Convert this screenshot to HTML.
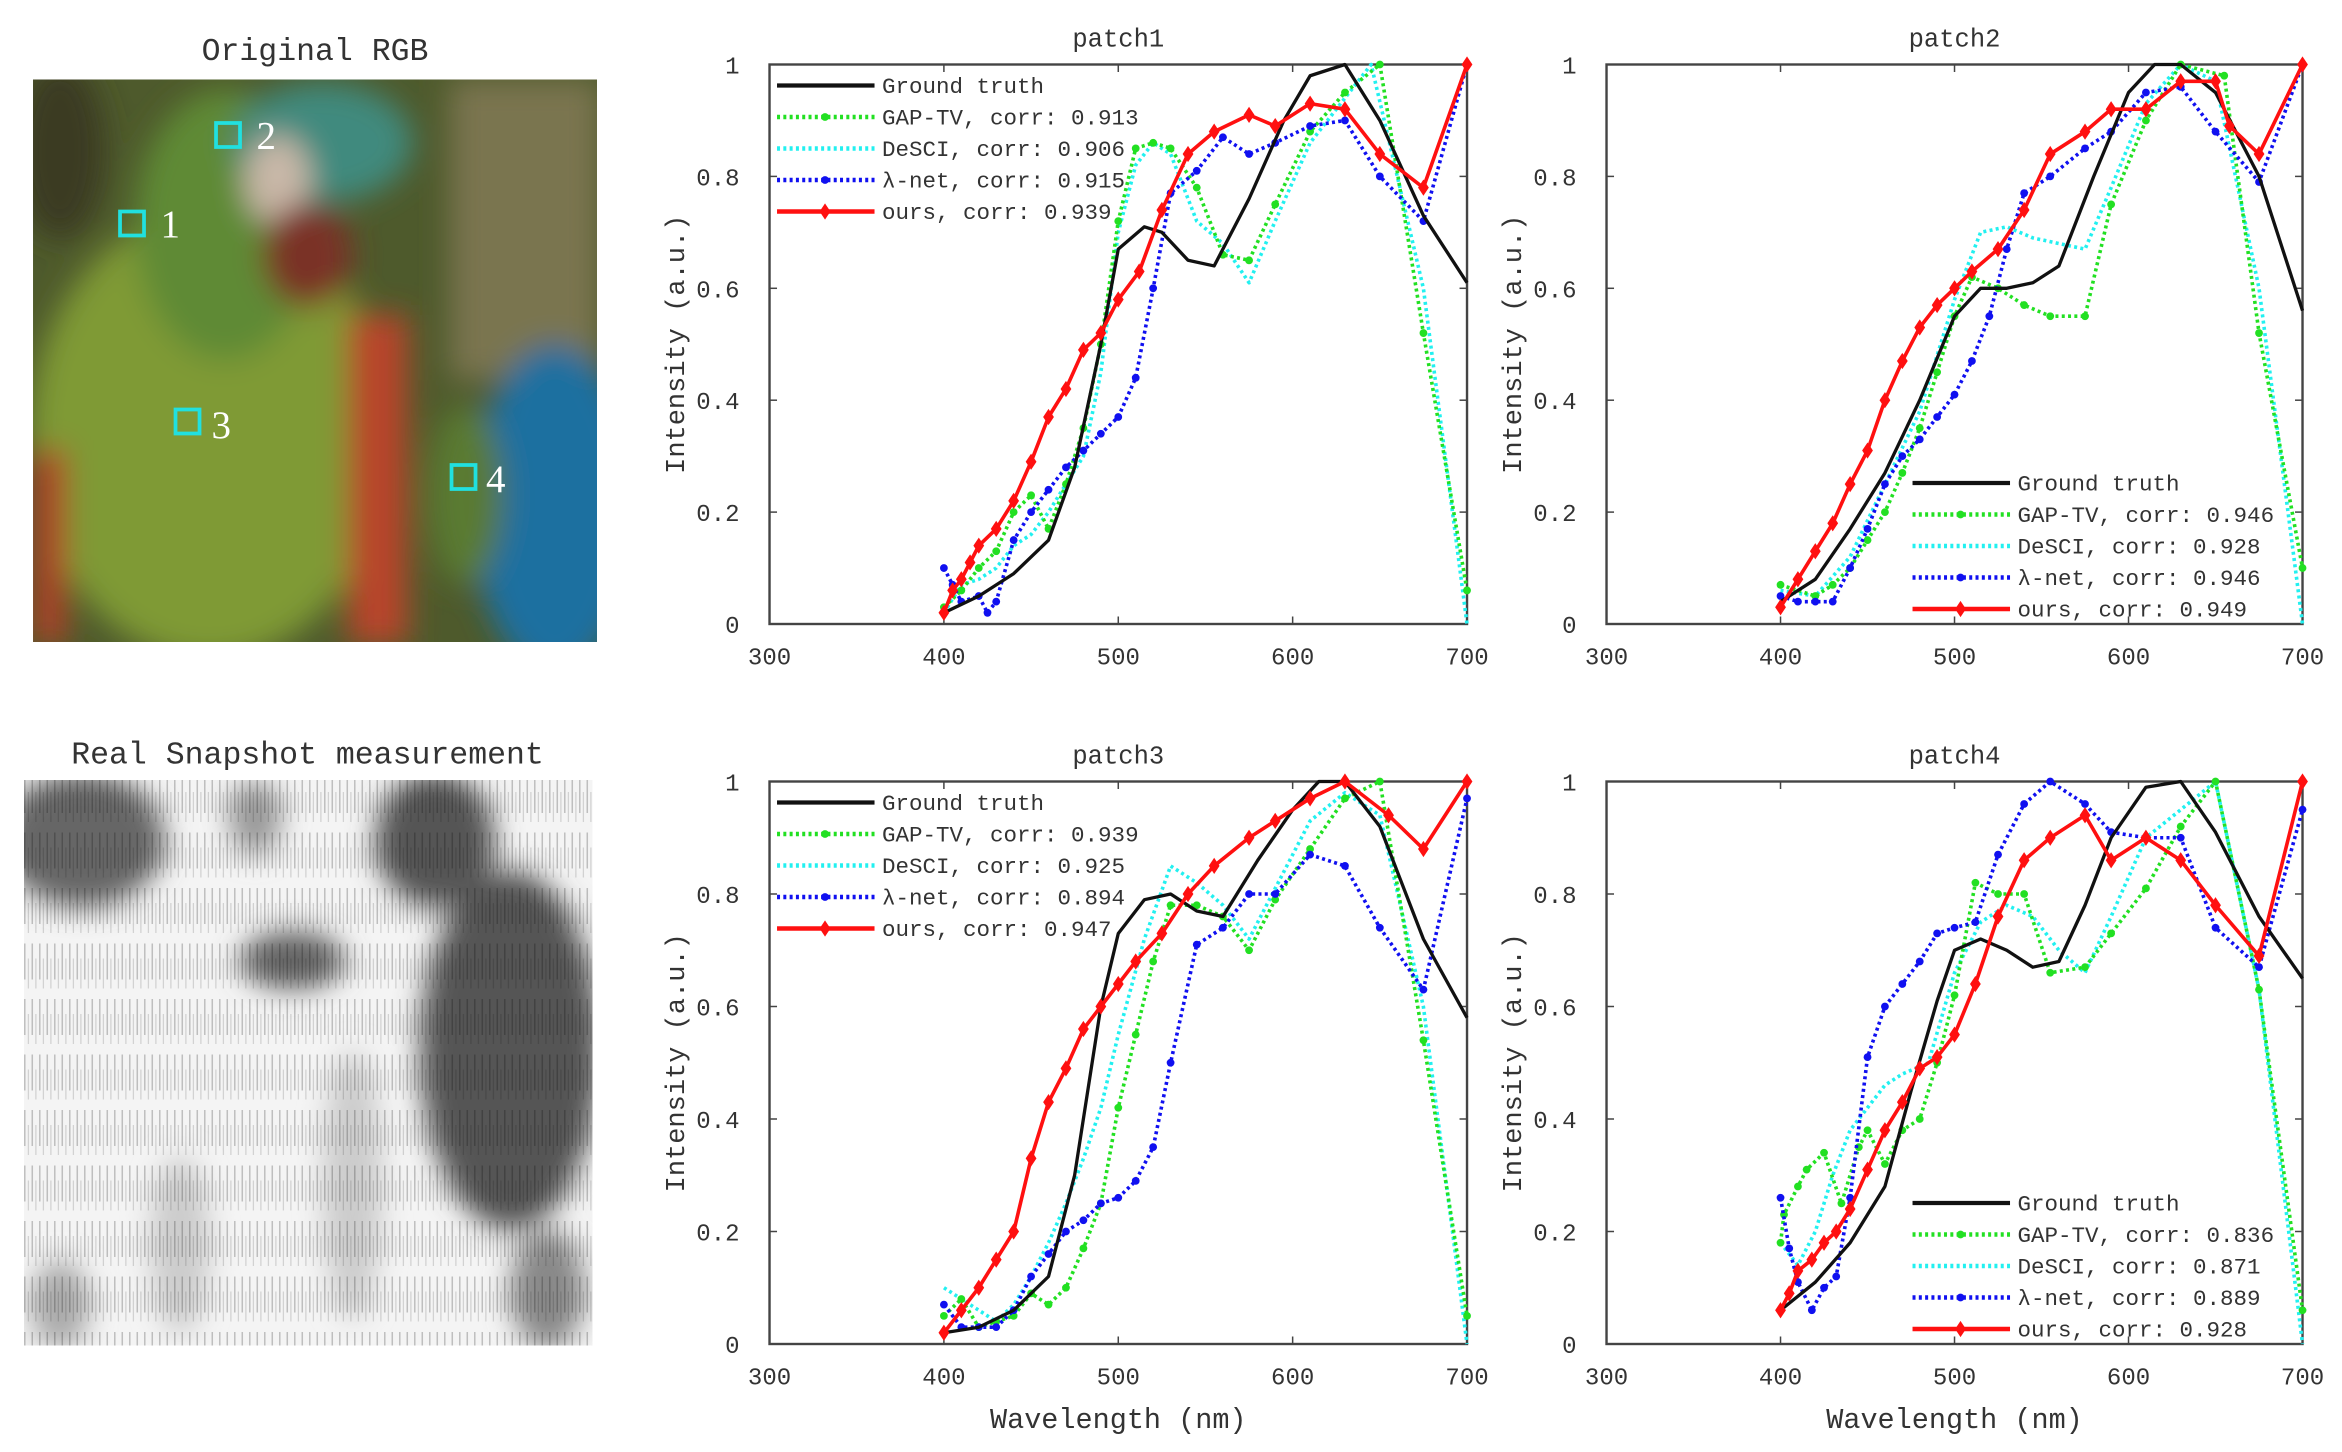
<!DOCTYPE html>
<html><head><meta charset="utf-8"><style>
html,body{margin:0;padding:0;background:#fff;}
svg{display:block;}
text{font-family:"Liberation Mono","DejaVu Sans Mono",monospace;fill:#333;}
</style></head><body>
<svg id="s" width="2342" height="1452" viewBox="0 0 1561.3 968" xmlns="http://www.w3.org/2000/svg">
<defs>
<filter id="b1" x="-20%" y="-20%" width="140%" height="140%"><feGaussianBlur stdDeviation="10"/></filter>
<filter id="b2" x="-20%" y="-20%" width="140%" height="140%"><feGaussianBlur stdDeviation="9"/></filter>
<clipPath id="c1"><rect x="22" y="53" width="376" height="375"/></clipPath>
<clipPath id="c2"><rect x="16" y="520" width="379" height="377"/></clipPath>
<pattern id="vl" width="5" height="37" patternUnits="userSpaceOnUse"><rect x="1" y="0" width="1" height="24" fill="#000" opacity="0.22"/><rect x="3.5" y="10" width="0.8" height="20" fill="#000" opacity="0.15"/></pattern>
</defs>
<text x="210" y="40" font-size="21" text-anchor="middle">Original RGB</text>
<g clip-path="url(#c1)">
<rect x="22" y="53" width="376" height="375" fill="#4e5a2c"/>
<g filter="url(#b1)">
<rect x="300" y="53" width="100" height="200" fill="#7a7550"/>
<ellipse cx="40" cy="100" rx="30" ry="60" fill="#3a3a20"/>
<ellipse cx="140" cy="290" rx="120" ry="150" fill="#7f9a36"/>
<ellipse cx="150" cy="150" rx="60" ry="90" fill="#5f8a35"/>
<ellipse cx="215" cy="95" rx="60" ry="40" fill="#3f8a7e"/>
<ellipse cx="185" cy="120" rx="22" ry="30" fill="#c9b8a8"/>
<ellipse cx="205" cy="170" rx="30" ry="35" fill="#7a3028"/>
<rect x="232" y="210" width="40" height="220" fill="#b8452a"/>
<rect x="22" y="300" width="22" height="130" fill="#b04028"/>
<ellipse cx="370" cy="340" rx="55" ry="110" fill="#1f6fa0"/>
<ellipse cx="310" cy="330" rx="25" ry="60" fill="#5a7a30"/>
</g>
<rect x="80" y="141" width="16" height="16" fill="none" stroke="#21e0e0" stroke-width="2.5"/>
<rect x="144" y="82" width="16" height="16" fill="none" stroke="#21e0e0" stroke-width="2.5"/>
<rect x="117" y="273" width="16" height="16" fill="none" stroke="#21e0e0" stroke-width="2.5"/>
<rect x="301" y="310" width="16" height="16" fill="none" stroke="#21e0e0" stroke-width="2.5"/>
</g>
<text x="107" y="158" style="font-family:'Liberation Serif';fill:#fff" font-size="26">1</text>
<text x="171" y="99" style="font-family:'Liberation Serif';fill:#fff" font-size="26">2</text>
<text x="141" y="292" style="font-family:'Liberation Serif';fill:#fff" font-size="26">3</text>
<text x="324" y="328" style="font-family:'Liberation Serif';fill:#fff" font-size="26">4</text>
<text x="205" y="509" font-size="21" text-anchor="middle">Real Snapshot measurement</text>
<g clip-path="url(#c2)">
<rect x="16" y="520" width="379" height="377" fill="#f4f4f4"/>
<g filter="url(#b2)">
<ellipse cx="55" cy="560" rx="55" ry="45" fill="#666"/>
<ellipse cx="170" cy="545" rx="18" ry="25" fill="#999"/>
<ellipse cx="290" cy="560" rx="40" ry="45" fill="#555"/>
<ellipse cx="340" cy="700" rx="60" ry="120" fill="#555"/>
<ellipse cx="195" cy="640" rx="35" ry="20" fill="#666"/>
<ellipse cx="365" cy="860" rx="25" ry="40" fill="#888"/>
<ellipse cx="40" cy="870" rx="20" ry="30" fill="#aaa"/>
<ellipse cx="120" cy="830" rx="20" ry="60" fill="#ccc"/>
<ellipse cx="235" cy="790" rx="20" ry="90" fill="#ccc"/>
</g>
<rect x="16" y="520" width="379" height="377" fill="url(#vl)"/>
</g>
<g id="charts"></g>
</svg>
<script>
const NS="http://www.w3.org/2000/svg";
const root=document.getElementById('charts');
function el(t,a,p){const e=document.createElementNS(NS,t);for(const k in a)e.setAttribute(k,a[k]);(p||root).appendChild(e);return e;}
function P(s){return s.split(',').map(x=>x.split(':').map(Number));}
const panels=[
{x0:513,x1:978,y0:43,y1:416,title:'patch1',xl:false,leg:'tl',
 corr:['0.913','0.906','0.915','0.939'],
 d:[P("400:0.02,420:0.05,440:0.09,460:0.15,475:0.28,490:0.5,500:0.67,515:0.71,525:0.7,540:0.65,555:0.64,575:0.76,595:0.9,610:0.98,630:1.0,650:0.9,675:0.73,700:0.61"),
 P("400:0.03,410:0.06,420:0.1,430:0.13,440:0.2,450:0.23,460:0.17,470:0.25,480:0.35,490:0.5,500:0.72,510:0.85,520:0.86,530:0.85,545:0.78,560:0.66,575:0.65,590:0.75,610:0.88,630:0.95,650:1.0,675:0.52,700:0.06"),
 P("400:0.02,410:0.07,420:0.08,430:0.1,440:0.14,450:0.16,460:0.2,470:0.25,480:0.3,490:0.45,500:0.7,510:0.82,520:0.86,530:0.84,545:0.72,560:0.68,575:0.61,590:0.72,610:0.86,630:0.94,645:1.0,675:0.6,700:0.0"),
 P("400:0.1,405:0.07,410:0.04,420:0.05,425:0.02,430:0.04,440:0.15,450:0.2,460:0.24,470:0.28,480:0.31,490:0.34,500:0.37,510:0.44,520:0.6,530:0.77,545:0.81,560:0.87,575:0.84,590:0.86,610:0.89,630:0.9,650:0.8,675:0.72,700:1.0"),
 P("400:0.02,405:0.06,410:0.08,415:0.11,420:0.14,430:0.17,440:0.22,450:0.29,460:0.37,470:0.42,480:0.49,490:0.52,500:0.58,512:0.63,525:0.74,540:0.84,555:0.88,575:0.91,590:0.89,610:0.93,630:0.92,650:0.84,675:0.78,700:1.0")]},
{x0:1071,x1:1535,y0:43,y1:416,title:'patch2',xl:false,leg:'br',
 corr:['0.946','0.928','0.946','0.949'],
 d:[P("400:0.04,420:0.08,440:0.17,460:0.27,480:0.4,500:0.55,515:0.6,530:0.6,545:0.61,560:0.64,580:0.8,600:0.95,615:1.0,630:1.0,650:0.95,675:0.8,700:0.56"),
 P("400:0.07,420:0.05,430:0.07,440:0.1,450:0.15,460:0.2,470:0.27,480:0.35,490:0.45,500:0.55,510:0.62,525:0.6,540:0.57,555:0.55,575:0.55,590:0.75,610:0.9,630:1.0,655:0.98,675:0.52,700:0.1"),
 P("400:0.06,420:0.05,440:0.12,460:0.25,480:0.38,500:0.58,515:0.7,530:0.71,545:0.69,575:0.67,590:0.78,610:0.93,630:1.0,650:0.97,675:0.6,700:0.0"),
 P("400:0.05,410:0.04,420:0.04,430:0.04,440:0.1,450:0.17,460:0.25,470:0.3,480:0.33,490:0.37,500:0.41,510:0.47,520:0.55,530:0.67,540:0.77,555:0.8,575:0.85,590:0.88,610:0.95,630:0.96,650:0.88,675:0.79,700:1.0"),
 P("400:0.03,410:0.08,420:0.13,430:0.18,440:0.25,450:0.31,460:0.4,470:0.47,480:0.53,490:0.57,500:0.6,510:0.63,525:0.67,540:0.74,555:0.84,575:0.88,590:0.92,610:0.92,630:0.97,650:0.97,658:0.89,675:0.84,700:1.0")]},
{x0:513,x1:978,y0:521,y1:896,title:'patch3',xl:true,leg:'tl',
 corr:['0.939','0.925','0.894','0.947'],
 d:[P("400:0.02,420:0.03,440:0.06,460:0.12,475:0.3,490:0.6,500:0.73,515:0.79,530:0.8,545:0.77,560:0.76,580:0.86,600:0.95,615:1.0,630:1.0,650:0.92,675:0.72,700:0.58"),
 P("400:0.05,410:0.08,420:0.03,430:0.04,440:0.05,450:0.09,460:0.07,470:0.1,480:0.17,490:0.25,500:0.42,510:0.55,520:0.68,530:0.78,545:0.78,560:0.76,575:0.7,590:0.79,610:0.88,630:0.97,650:1.0,675:0.54,700:0.05"),
 P("400:0.1,410:0.08,420:0.06,430:0.04,440:0.07,450:0.12,460:0.18,470:0.25,480:0.33,490:0.42,500:0.55,515:0.72,530:0.85,545:0.82,560:0.78,575:0.72,590:0.81,610:0.93,630:0.98,650:0.94,675:0.6,700:0.0"),
 P("400:0.07,410:0.03,420:0.03,430:0.03,440:0.06,450:0.12,460:0.16,470:0.2,480:0.22,490:0.25,500:0.26,510:0.29,520:0.35,530:0.5,545:0.71,560:0.74,575:0.8,590:0.8,610:0.87,630:0.85,650:0.74,675:0.63,700:0.97"),
 P("400:0.02,410:0.06,420:0.1,430:0.15,440:0.2,450:0.33,460:0.43,470:0.49,480:0.56,490:0.6,500:0.64,510:0.68,525:0.73,540:0.8,555:0.85,575:0.9,590:0.93,610:0.97,630:1.0,655:0.94,675:0.88,700:1.0")]},
{x0:1071,x1:1535,y0:521,y1:896,title:'patch4',xl:true,leg:'br',
 corr:['0.836','0.871','0.889','0.928'],
 d:[P("400:0.06,420:0.11,440:0.18,460:0.28,475:0.45,490:0.61,500:0.7,515:0.72,530:0.7,545:0.67,560:0.68,575:0.78,590:0.9,610:0.99,630:1.0,650:0.91,675:0.76,700:0.65"),
 P("400:0.18,402:0.23,410:0.28,415:0.31,425:0.34,435:0.25,445:0.35,450:0.38,460:0.32,470:0.38,480:0.4,490:0.5,500:0.62,512:0.82,525:0.8,540:0.8,555:0.66,575:0.67,590:0.73,610:0.81,630:0.92,650:1.0,675:0.63,700:0.06"),
 P("400:0.18,410:0.14,420:0.2,430:0.3,440:0.38,450:0.42,460:0.46,470:0.48,485:0.5,500:0.66,515:0.75,530:0.78,545:0.76,560:0.7,575:0.66,590:0.76,610:0.9,630:0.95,650:1.0,675:0.63,700:0.0"),
 P("400:0.26,405:0.17,410:0.11,418:0.06,425:0.1,432:0.12,440:0.26,450:0.51,460:0.6,470:0.64,480:0.68,490:0.73,500:0.74,512:0.75,525:0.87,540:0.96,555:1.0,575:0.96,590:0.91,610:0.9,630:0.9,650:0.74,675:0.67,700:0.95"),
 P("400:0.06,405:0.09,410:0.13,418:0.15,425:0.18,432:0.2,440:0.24,450:0.31,460:0.38,470:0.43,480:0.49,490:0.51,500:0.55,512:0.64,525:0.76,540:0.86,555:0.9,575:0.94,590:0.86,610:0.9,630:0.86,650:0.78,675:0.69,700:1.0")]}
];
const sty=[{c:'#111',w:2.2,dash:null,m:null},{c:'#22e022',w:2.4,dash:'2 2.2',m:'c'},{c:'#22f0f0',w:2.4,dash:'2 2.2',m:null},{c:'#1010f0',w:2.4,dash:'2 2.2',m:'c'},{c:'#ff1010',w:2.4,dash:null,m:'d'}];
const names=['Ground truth','GAP-TV, corr: ','DeSCI, corr: ','\u03bb-net, corr: ','ours, corr: '];
function marker(x,y,s){if(s.m==='c')el('circle',{cx:x,cy:y,r:2.6,fill:s.c});else if(s.m==='d')el('path',{d:`M${x} ${y-4.5}L${x+3} ${y}L${x} ${y+4.5}L${x-3} ${y}Z`,fill:s.c,stroke:s.c,'stroke-width':1});}
panels.forEach(p=>{
 const X=w=>p.x0+(w-300)/400*(p.x1-p.x0), Y=v=>p.y1-v*(p.y1-p.y0);
 el('rect',{x:p.x0,y:p.y0,width:p.x1-p.x0,height:p.y1-p.y0,fill:'#fff',stroke:'#444','stroke-width':1.6});
 for(let w=300;w<=700;w+=100){el('line',{x1:X(w),x2:X(w),y1:p.y1,y2:p.y1-5,stroke:'#444'});el('line',{x1:X(w),x2:X(w),y1:p.y0,y2:p.y0+5,stroke:'#444'});
  const t=el('text',{x:X(w),y:p.y1+27,'font-size':16,'text-anchor':'middle'});t.textContent=w;}
 for(let i=0;i<=5;i++){const v=i/5;el('line',{x1:p.x0,x2:p.x0+5,y1:Y(v),y2:Y(v),stroke:'#444'});el('line',{x1:p.x1,x2:p.x1-5,y1:Y(v),y2:Y(v),stroke:'#444'});
  const t=el('text',{x:p.x0-20,y:Y(v)+6,'font-size':16,'text-anchor':'end'});t.textContent=i==0?'0':i==5?'1':v.toFixed(1);}
 const tt=el('text',{x:(p.x0+p.x1)/2,y:p.y0-12,'font-size':17,'text-anchor':'middle',fill:'#555'});tt.textContent=p.title;
 const yl=el('text',{x:0,y:0,'font-size':18,'text-anchor':'middle',transform:`translate(${p.x0-57},${(p.y0+p.y1)/2}) rotate(-90)`});yl.textContent='Intensity (a.u.)';
 if(p.xl){const xl=el('text',{x:(p.x0+p.x1)/2,y:p.y1+56,'font-size':19,'text-anchor':'middle'});xl.textContent='Wavelength (nm)';}
 [2,1,3,0,4].forEach(k=>{const s=sty[k],d=p.d[k];const pts=d.map(q=>X(q[0]).toFixed(1)+','+Y(q[1]).toFixed(1)).join(' ');
  const a={points:pts,fill:'none',stroke:s.c,'stroke-width':s.w,'stroke-linejoin':'round'};if(s.dash)a['stroke-dasharray']=s.dash;el('polyline',a);
  if(s.m)d.forEach(q=>marker(X(q[0]),Y(q[1]),s));});
 let lx,ly;if(p.leg==='tl'){lx=p.x0+5;ly=p.y0+14;}else{lx=p.x0+204;ly=p.y1-94;}
 for(let k=0;k<5;k++){const s=sty[k],y=ly+k*21;const a={x1:lx,x2:lx+65,y1:y,y2:y,stroke:s.c,'stroke-width':s.w+0.6};if(s.dash)a['stroke-dasharray']=s.dash;el('line',a);
  if(s.m)marker(lx+32,y,s);const t=el('text',{x:lx+70,y:y+5,'font-size':15,fill:'#222'});t.textContent=names[k]+(k?p.corr[k-1]:'');}
});
</script>
</body></html>
